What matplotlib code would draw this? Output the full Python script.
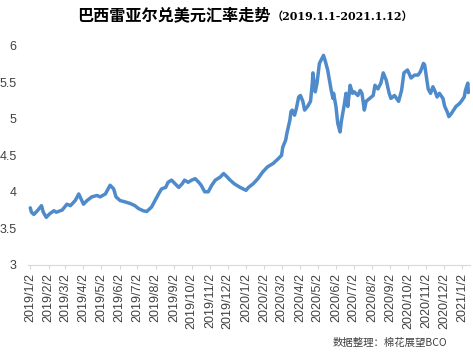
# Taux de change BRL/USD 2019-2021 (reproduction du graphique)

import pandas as pd
import matplotlib.pyplot as plt

# Données
dates = [
    '2019-01-02', '2019-01-04', '2019-01-08', '2019-01-14', '2019-01-21', '2019-01-24',
    '2019-01-29', '2019-02-04', '2019-02-11', '2019-02-15', '2019-02-25', '2019-03-05',
    '2019-03-11', '2019-03-19', '2019-03-25', '2019-03-29', '2019-04-02', '2019-04-08',
    '2019-04-16', '2019-04-25', '2019-04-30', '2019-05-09', '2019-05-17', '2019-05-23',
    '2019-05-27', '2019-06-03', '2019-06-12', '2019-06-20', '2019-06-28', '2019-07-04',
    '2019-07-12', '2019-07-18', '2019-07-26', '2019-08-01', '2019-08-07', '2019-08-12',
    '2019-08-19', '2019-08-23', '2019-08-29', '2019-09-04', '2019-09-10', '2019-09-16',
    '2019-09-20', '2019-09-26', '2019-10-02', '2019-10-08', '2019-10-14', '2019-10-18',
    '2019-10-24', '2019-10-30', '2019-11-05', '2019-11-11', '2019-11-19', '2019-11-25',
    '2019-11-29', '2019-12-06', '2019-12-13', '2019-12-23', '2020-01-02', '2020-01-06',
    '2020-01-14', '2020-01-22', '2020-01-30', '2020-02-07', '2020-02-17', '2020-02-25',
    '2020-03-02', '2020-03-04', '2020-03-09', '2020-03-11', '2020-03-16', '2020-03-18',
    '2020-03-20', '2020-03-24', '2020-03-27', '2020-03-31', '2020-04-03', '2020-04-07',
    '2020-04-10', '2020-04-15', '2020-04-20', '2020-04-23', '2020-04-24', '2020-04-28',
    '2020-05-01', '2020-05-05', '2020-05-12', '2020-05-15', '2020-05-19', '2020-05-22',
    '2020-05-25', '2020-05-28', '2020-05-29', '2020-06-02', '2020-06-05', '2020-06-09',
    '2020-06-11', '2020-06-16', '2020-06-19', '2020-06-22', '2020-06-26', '2020-06-30',
    '2020-07-03', '2020-07-09', '2020-07-13', '2020-07-16', '2020-07-20', '2020-07-23',
    '2020-07-29', '2020-08-04', '2020-08-07', '2020-08-12', '2020-08-17', '2020-08-21',
    '2020-08-26', '2020-08-31', '2020-09-03', '2020-09-09', '2020-09-16', '2020-09-21',
    '2020-09-25', '2020-10-01', '2020-10-07', '2020-10-13', '2020-10-19', '2020-10-23',
    '2020-10-28', '2020-10-30', '2020-11-05', '2020-11-09', '2020-11-13', '2020-11-17',
    '2020-11-20', '2020-11-24', '2020-11-30', '2020-12-03', '2020-12-07', '2020-12-10',
    '2020-12-14', '2020-12-18', '2020-12-22', '2020-12-28', '2020-12-31', '2021-01-05',
    '2021-01-07', '2021-01-11', '2021-01-12',
]
rates = [
    3.78, 3.72, 3.69, 3.74, 3.81, 3.72,
    3.65, 3.70, 3.74, 3.72, 3.75, 3.83,
    3.81, 3.88, 3.97, 3.90, 3.83, 3.88,
    3.93, 3.95, 3.93, 3.97, 4.09, 4.04,
    3.93, 3.88, 3.86, 3.84, 3.81, 3.77,
    3.74, 3.73, 3.79, 3.88, 3.97, 4.04,
    4.06, 4.13, 4.16, 4.11, 4.06, 4.11,
    4.16, 4.13, 4.16, 4.18, 4.13, 4.09,
    4.00, 4.00, 4.09, 4.16, 4.20, 4.25,
    4.22, 4.16, 4.11, 4.06, 4.02, 4.06,
    4.11, 4.18, 4.27, 4.34, 4.39, 4.45,
    4.50, 4.61, 4.71, 4.80, 4.98, 5.10,
    5.12, 5.05, 5.14, 5.30, 5.32, 5.24,
    5.12, 5.17, 5.24, 5.49, 5.63, 5.37,
    5.49, 5.76, 5.87, 5.79, 5.67, 5.53,
    5.39, 5.28, 5.35, 5.17, 4.94, 4.82,
    4.96, 5.19, 5.35, 5.17, 5.46, 5.35,
    5.37, 5.32, 5.39, 5.35, 5.12, 5.24,
    5.28, 5.32, 5.46, 5.41, 5.49, 5.63,
    5.53, 5.35, 5.28, 5.32, 5.24, 5.39,
    5.63, 5.67, 5.56, 5.60, 5.60, 5.65,
    5.76, 5.74, 5.41, 5.35, 5.44, 5.37,
    5.30, 5.35, 5.28, 5.17, 5.10, 5.03,
    5.07, 5.12, 5.17, 5.21, 5.24, 5.30,
    5.39, 5.49, 5.36,
]
y_ticks = [3, 3.5, 4, 4.5, 5, 5.5, 6]
# une étiquette par mois, le 2 du mois
tick_dates = pd.date_range('2019-01-01', '2021-01-01', freq='MS') + pd.Timedelta(days=1)

title = '巴西雷亚尔兑美元汇率走势'
subtitle = '（2019.1.1-2021.1.12）'
source = '数据整理：棉花展望BCO'

plt.rcParams['font.family'] = ['Liberation Sans', 'Noto Sans CJK SC', 'DejaVu Sans']

fig = plt.figure(figsize=(4.73, 3.53), dpi=100)
ax = fig.add_axes([0.059, 0.250, 0.935, 0.620])

ax.plot(pd.to_datetime(dates), rates, color='#4f8bcb', linewidth=2.5,
        solid_joinstyle='round', solid_capstyle='round')

ax.set_ylim(3, 6)
ax.set_yticks(y_ticks)
ax.set_yticklabels([f'{v:g}' for v in y_ticks])
ax.set_xlim(pd.Timestamp('2018-12-29'), pd.Timestamp('2021-01-15'))
ax.set_xticks(tick_dates)
ax.set_xticklabels([f'{d.year}/{d.month}/{d.day}' for d in tick_dates], rotation=90)

# axes: seule la ligne du bas, grise
for side in ['left', 'right', 'top']:
    ax.spines[side].set_visible(False)
ax.spines['bottom'].set_color('#d9d9d9')
ax.spines['bottom'].set_linewidth(0.8)
ax.tick_params(axis='x', length=3, color='#d9d9d9', labelsize=9, labelcolor='#404040', pad=3)
ax.tick_params(axis='y', length=0, labelsize=9, labelcolor='#404040', pad=8)

# titre et source
fig.text(77 / 473, 1 - 15 / 353, title, fontsize=11.6, fontweight='bold',
         family=['Noto Sans CJK SC'], ha='left', va='center', color='#000000')
fig.text(272 / 473, 1 - 16 / 353, subtitle, fontsize=8, fontweight='bold',
         family=['DejaVu Serif', 'Noto Sans CJK SC'], ha='left', va='center', color='#000000')
fig.text(447 / 473, 1 - 343 / 353, source, fontsize=7.5,
         family=['Noto Sans CJK SC', 'DejaVu Sans'], ha='right', va='center', color='#404040')

plt.savefig('out.png', dpi=100)
